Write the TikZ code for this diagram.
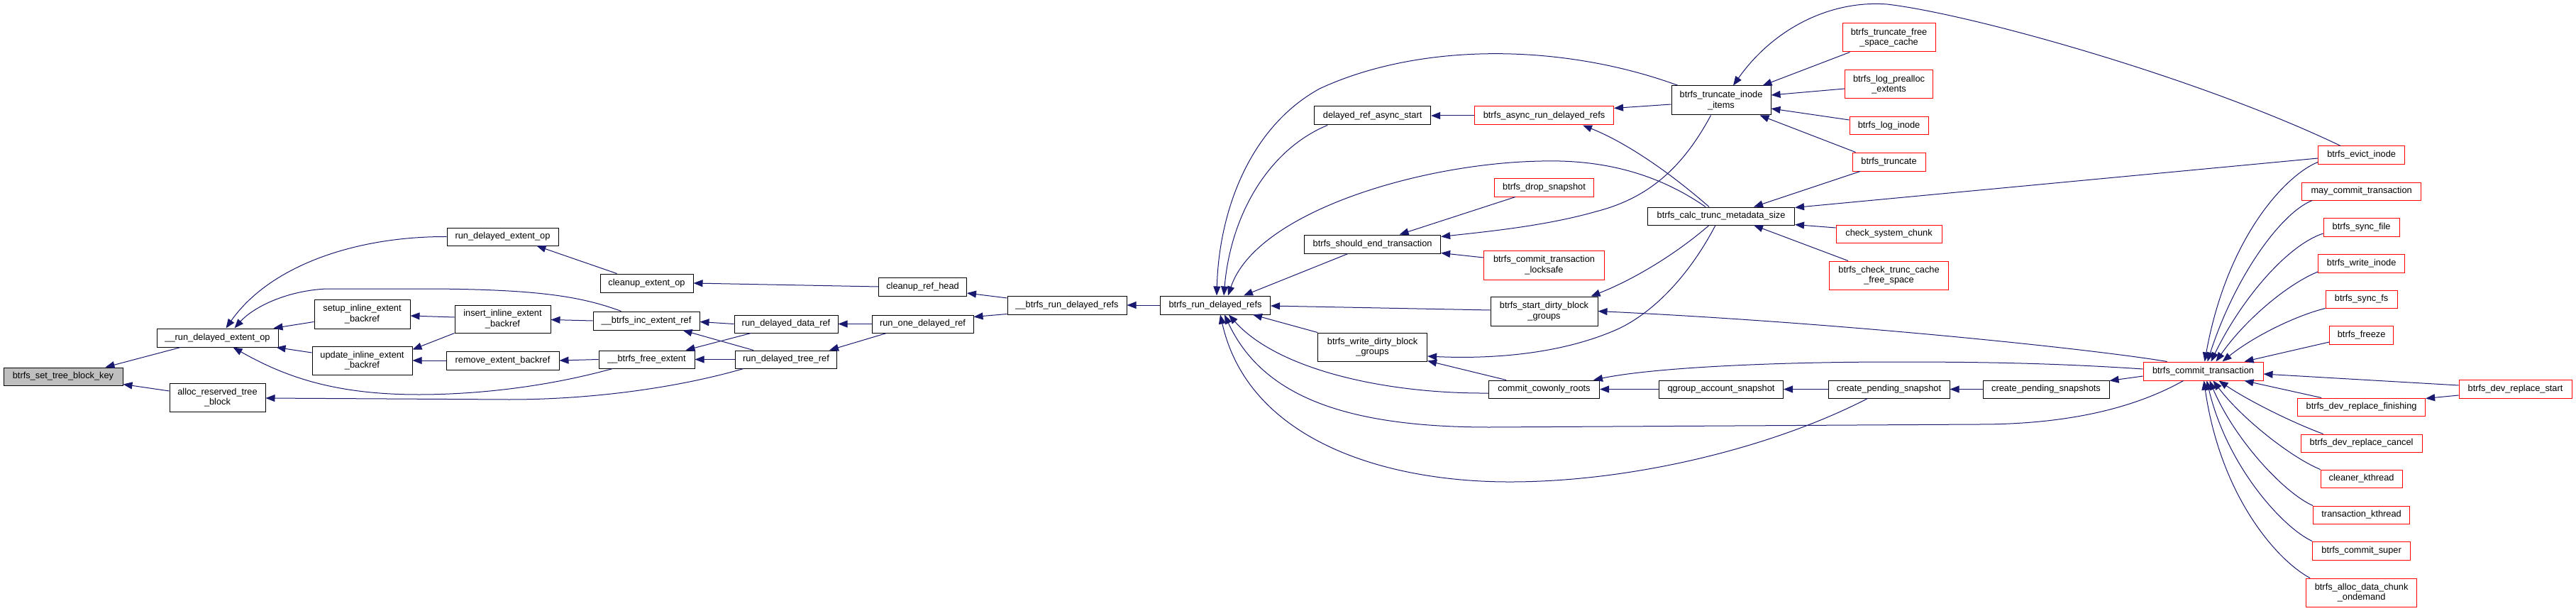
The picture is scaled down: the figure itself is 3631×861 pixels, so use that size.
\documentclass[tikz,border=0pt]{standalone}
\usepackage{fontspec}
\setmainfont{Liberation Sans}
\usetikzlibrary{arrows.meta,calc}
\definecolor{edgeblue}{HTML}{191970}
\definecolor{nodegray}{HTML}{BFBFBF}
\definecolor{nodered}{HTML}{FF0000}
\begin{document}
\begin{tikzpicture}[x=1pt,y=-1pt,
  bx/.style={draw=black,fill=white,line width=1pt,inner sep=0pt,align=center,font=\fontsize{12.8}{14.5}\selectfont},
  rbx/.style={bx,draw=nodered},
  sz/.style 2 args={minimum width=#1pt,minimum height=#2pt},
  ed/.style={draw=edgeblue,line width=1pt,-{Triangle[length=13pt,width=10pt]}}]
\fill[white] (0,0) rectangle (3631,861);
\useasboundingbox (0,0) rectangle (3631,861);

\node[bx,fill=nodegray,sz={168}{25}] (A) at (89,530.5) {btrfs\_set\_tree\_block\_key};
\node[bx,sz={171}{26}] (B) at (306.5,476) {\_\_run\_delayed\_extent\_op};
\node[bx,sz={135}{40}] (C) at (306.5,560) {alloc\_reserved\_tree\\\_block};
\node[bx,sz={135}{41}] (D) at (510.5,442.5) {setup\_inline\_extent\\\_backref};
\node[bx,sz={141}{40}] (E) at (510.5,508) {update\_inline\_extent\\\_backref};
\node[bx,sz={157}{25}] (F) at (708.5,333.5) {run\_delayed\_extent\_op};
\node[bx,sz={131}{26}] (G) at (911.5,399) {cleanup\_extent\_op};
\node[bx,sz={135}{39}] (H) at (708.5,449.5) {insert\_inline\_extent\\\_backref};
\node[bx,sz={150}{26}] (I) at (911,452) {\_\_btrfs\_inc\_extent\_ref};
\node[bx,sz={146}{25}] (J) at (1108,456.5) {run\_delayed\_data\_ref};
\node[bx,sz={159}{26}] (K) at (708.5,508) {remove\_extent\_backref};
\node[bx,sz={135}{25}] (L) at (911.5,506.5) {\_\_btrfs\_free\_extent};
\node[bx,sz={143}{25}] (M) at (1108,506.5) {run\_delayed\_tree\_ref};
\node[bx,sz={124}{26}] (N) at (1300.5,404) {cleanup\_ref\_head};
\node[bx,sz={168}{26}] (O) at (1504,430) {\_\_btrfs\_run\_delayed\_refs};
\node[bx,sz={155}{26}] (P) at (1713,430) {btrfs\_run\_delayed\_refs};
\node[bx,sz={143}{25}] (Q) at (1300.5,456.5) {run\_one\_delayed\_ref};
\node[bx,sz={164}{26}] (R) at (1934.6,163) {delayed\_ref\_async\_start};
\node[rbx,sz={196}{26}] (S) at (2176.5,163) {btrfs\_async\_run\_delayed\_refs};
\node[bx,sz={140}{41}] (T) at (2426,141.5) {btrfs\_truncate\_inode\\\_items};
\node[rbx,sz={140}{26}] (U) at (2176.5,264) {btrfs\_drop\_snapshot};
\node[bx,sz={192}{26}] (V) at (1934.6,344) {btrfs\_should\_end\_transaction};
\node[rbx,sz={170}{41}] (W) at (2176.5,373.5) {btrfs\_commit\_transaction\\\_locksafe};
\node[bx,sz={207}{25}] (X) at (2426,304.5) {btrfs\_calc\_trunc\_metadata\_size};
\node[bx,sz={151}{41}] (Y) at (2176.5,438.5) {btrfs\_start\_dirty\_block\\\_groups};
\node[bx,sz={154}{40}] (Z) at (1934.6,489) {btrfs\_write\_dirty\_block\\\_groups};
\node[bx,sz={156}{25}] (AA) at (2176.5,548.5) {commit\_cowonly\_roots};
\node[bx,sz={175}{25}] (AB) at (2426,548.5) {qgroup\_account\_snapshot};
\node[bx,sz={171}{25}] (AC) at (2662.5,548.5) {create\_pending\_snapshot};
\node[bx,sz={178}{25}] (AD) at (2884,548.5) {create\_pending\_snapshots};
\node[rbx,sz={131}{40}] (AE) at (2662.5,53) {btrfs\_truncate\_free\\\_space\_cache};
\node[rbx,sz={124}{40}] (AF) at (2662.5,119) {btrfs\_log\_prealloc\\\_extents};
\node[rbx,sz={111}{25}] (AG) at (2662.5,177.5) {btrfs\_log\_inode};
\node[rbx,sz={103}{26}] (AH) at (2662.5,228) {btrfs\_truncate};
\node[rbx,sz={149}{25}] (AI) at (2662.5,329.5) {check\_system\_chunk};
\node[rbx,sz={168}{40}] (AJ) at (2662.5,388) {btrfs\_check\_trunc\_cache\\\_free\_space};
\node[rbx,sz={122}{25}] (AK) at (3328.6,218.5) {btrfs\_evict\_inode};
\node[rbx,sz={168}{25}] (AL) at (3328.6,269.5) {may\_commit\_transaction};
\node[rbx,sz={107}{26}] (AM) at (3328.6,320) {btrfs\_sync\_file};
\node[rbx,sz={122}{26}] (AN) at (3328.6,371) {btrfs\_write\_inode};
\node[rbx,sz={101}{25}] (AO) at (3328.6,421.5) {btrfs\_sync\_fs};
\node[rbx,sz={90}{26}] (AP) at (3328.6,472) {btrfs\_freeze};
\node[rbx,sz={169}{26}] (AQ) at (3105.5,523) {btrfs\_commit\_transaction};
\node[rbx,sz={159}{26}] (AR) at (3545.5,548) {btrfs\_dev\_replace\_start};
\node[rbx,sz={180}{25}] (AS) at (3328.6,573.5) {btrfs\_dev\_replace\_finishing};
\node[rbx,sz={171}{25}] (AT) at (3328.6,624.5) {btrfs\_dev\_replace\_cancel};
\node[rbx,sz={115}{25}] (AU) at (3328.6,674.5) {cleaner\_kthread};
\node[rbx,sz={136}{25}] (AV) at (3328.6,725.5) {transaction\_kthread};
\node[rbx,sz={138}{26}] (AW) at (3328.6,776) {btrfs\_commit\_super};
\node[rbx,sz={156}{40}] (AX) at (3328.6,835) {btrfs\_alloc\_data\_chunk\\\_ondemand};

% left part
\draw[ed] ($(B.south west)+(34,0)$) -- ($(A.north east)+(-25,0)$);
\draw[ed] ($(C.west)+(0,-9)$) -- ($(A.south east)+(0,-2)$);
\draw[ed] (F.west) .. controls (500,333) and (380,375) .. ($(B.north)+(12,0)$);
\draw[ed] ($(I.north west)+(40,0)$) .. controls (820,418) and (760,408) .. (610,407) -- (460,407) .. controls (400,410) and (355,435) .. ($(B.north)+(24,0)$);
\draw[ed] ($(D.west)+(0,11)$) -- ($(B.north east)+(-7,0)$);
\draw[ed] ($(E.west)+(0,-11)$) -- ($(B.south east)+(-3,0)$);
\draw[ed] ($(L.south west)+(20,0)$) .. controls (760,548) and (660,556) .. (590,556) .. controls (470,556) and (400,530) .. ($(B.south)+(22,0)$);
\draw[ed] ($(M.south west)+(12,0)$) .. controls (960,545) and (840,563) .. (717,563) -- ($(C.east)+(0,1)$);
\draw[ed] ($(H.west)+(0,-2.5)$) -- ($(D.east)+(0,2.5)$);
\draw[ed] (H.south west) -- ($(E.north east)+(0,5)$);
\draw[ed] (K.west) -- (E.east);
\draw[ed] ($(G.north west)+(24,0)$) -- ($(F.south east)+(-31,0)$);
\draw[ed] (N.west) -- (G.east);
\draw[ed] (I.west) -- ($(H.east)+(0,1)$);
\draw[ed] (L.west) -- (K.east);
\draw[ed] (J.west) -- ($(I.east)+(0,1.5)$);
\draw[ed] ($(M.north west)+(26,0)$) -- ($(I.south east)+(-24,0)$);
\draw[ed] ($(J.south west)+(24,0)$) -- ($(L.north east)+(-13,0)$);
\draw[ed] (M.west) -- (L.east);
\draw[ed] (Q.west) -- (J.east);
\draw[ed] ($(Q.south west)+(21,0)$) -- ($(M.north east)+(-11,0)$);
\draw[ed] ($(O.west)+(0,-10)$) -- ($(N.east)+(0,9)$);
\draw[ed] ($(O.south west)+(0,-1)$) -- ($(Q.north east)+(0,3)$);
\draw[ed] (P.west) -- (O.east);

% into btrfs_run_delayed_refs
\draw[ed] ($(T.north west)+(10,0)$) .. controls (2200,60) and (2000,60) .. (1860,125) .. controls (1760,180) and (1718,300) .. ($(P.north)+(2,0)$);
\draw[ed] ($(R.south west)+(19,0)$) .. controls (1790,210) and (1735,300) .. ($(P.north)+(12,0)$);
\draw[ed] ($(X.north)+(-22,0)$) .. controls (2330,240) and (2250,225) .. (2173,227) .. controls (2000,230) and (1770,300) .. ($(P.north)+(18,0)$);
\draw[ed] ($(V.south west)+(62,0)$) -- ($(P.north east)+(-38,0)$);
\draw[ed] ($(Y.west)+(0,-1.5)$) -- ($(P.east)+(0,1)$);
\draw[ed] (Z.north west) -- ($(P.south east)+(-25,0)$);
\draw[ed] ($(AA.west)+(0,5.5)$) .. controls (1950,555) and (1800,520) .. ($(P.south)+(19,0)$);
\draw[ed] ($(AQ.south west)+(57,0)$) .. controls (3000,580) and (2900,598) .. (2789,598) -- (2100,602) .. controls (1900,602) and (1780,560) .. ($(P.south)+(13,0)$);
\draw[ed] ($(AC.south west)+(56,0)$) .. controls (2500,630) and (2300,680) .. (2123,679) .. controls (1950,678) and (1760,620) .. ($(P.south)+(7,0)$);

% middle
\draw[ed] (S.west) -- (R.east);
\draw[ed] ($(T.west)+(0,5.5)$) -- ($(S.north east)+(0,3)$);
\draw[ed] ($(X.north)+(-17,0)$) .. controls (2350,240) and (2290,200) .. ($(S.south east)+(-44,0)$);
\draw[ed] ($(U.south west)+(30,0)$) -- ($(V.north)+(38,0)$);
\draw[ed] ($(T.south west)+(56,0)$) .. controls (2370,240) and (2320,280) .. (2250,298) .. controls (2180,318) and (2100,326) .. ($(V.north east)+(0,3)$);
\draw[ed] ($(W.west)+(0,-10.5)$) -- ($(V.south east)+(0,-1)$);
\draw[ed] ($(X.south)+(-17,0)$) .. controls (2360,360) and (2300,395) .. ($(Y.north east)+(-10,0)$);
\draw[ed] ($(X.south)+(-8,0)$) .. controls (2380,390) and (2330,440) .. (2282,463) .. controls (2200,500) and (2100,506) .. ($(Z.east)+(0,13)$);
\draw[ed] ($(AA.north west)+(25,0)$) -- ($(Z.south east)+(0,-1)$);
\draw[ed] (AB.west) -- (AA.east);
\draw[ed] ($(AQ.west)+(0,-3)$) .. controls (2900,512) and (2800,510) .. (2672,510) .. controls (2500,510) and (2330,518) .. ($(AA.north east)+(-9,0)$);
\draw[ed] (AC.west) -- (AB.east);
\draw[ed] (AD.west) -- (AC.east);
\draw[ed] ($(AQ.west)+(0,7)$) -- ($(AD.north east)+(0,1)$);
\draw[ed] ($(AQ.north west)+(34,0)$) .. controls (2950,492) and (2600,455) .. (Y.east);

% right of calc / truncate
\draw[ed] ($(AK.west)+(0,4.5)$) -- ($(X.north east)+(0,1)$);
\draw[ed] ($(AK.north west)+(32,0)$) .. controls (3100,110) and (2780,20) .. (2660,6) .. controls (2580,0) and (2500,40) .. ($(T.north)+(17,0)$);
\draw[ed] ($(AE.south west)+(11,0)$) -- ($(T.north east)+(-12,0)$);
\draw[ed] ($(AF.west)+(0,6)$) -- ($(T.east)+(0,-7.5)$);
\draw[ed] ($(AG.west)+(0,-8.5)$) -- ($(T.east)+(0,11.5)$);
\draw[ed] ($(AH.north west)+(5,0)$) -- ($(T.south east)+(-16,0)$);
\draw[ed] ($(AH.south west)+(11.5,0)$) -- ($(X.north)+(46,0)$);
\draw[ed] ($(AI.west)+(0,-8.5)$) -- ($(X.south east)+(0,-1)$);
\draw[ed] ($(AJ.north west)+(27,0)$) -- ($(X.south)+(46,0)$);

% into btrfs_commit_transaction
\draw[ed] ($(AK.south west)+(0,-3)$) .. controls (3225,245) and (3140,330) .. ($(AQ.north west)+(87,0)$);
\draw[ed] ($(AL.south west)+(15,0)$) .. controls (3215,300) and (3150,390) .. ($(AQ.north west)+(91,0)$);
\draw[ed] ($(AM.west)+(0,9)$) .. controls (3225,345) and (3160,420) .. ($(AQ.north west)+(96,0)$);
\draw[ed] ($(AN.west)+(0,12)$) .. controls (3225,400) and (3165,450) .. ($(AQ.north west)+(103,0)$);
\draw[ed] (AO.south west) .. controls (3235,445) and (3175,475) .. ($(AQ.north west)+(112,0)$);
\draw[ed] ($(AP.west)+(0,10)$) -- ($(AQ.north east)+(-27,0)$);
\draw[ed] ($(AR.west)+(0,-5)$) -- ($(AQ.east)+(0,4)$);
\draw[ed] ($(AS.north west)+(34,0)$) -- ($(AQ.south east)+(-27,0)$);
\draw[ed] ($(AR.west)+(0,9)$) -- ($(AS.north east)+(0,1)$);
\draw[ed] ($(AT.north west)+(32,0)$) .. controls (3230,595) and (3170,565) .. ($(AQ.south west)+(107,0)$);
\draw[ed] (AU.north west) .. controls (3230,645) and (3160,590) .. ($(AQ.south west)+(99,0)$);
\draw[ed] (AV.north west) .. controls (3220,695) and (3150,620) .. ($(AQ.south west)+(94,0)$);
\draw[ed] (AW.north west) .. controls (3220,745) and (3140,660) .. ($(AQ.south west)+(90,0)$);
\draw[ed] ($(AX.north west)+(6,0)$) .. controls (3210,790) and (3130,700) .. ($(AQ.south west)+(86,0)$);
\end{tikzpicture}
\end{document}
